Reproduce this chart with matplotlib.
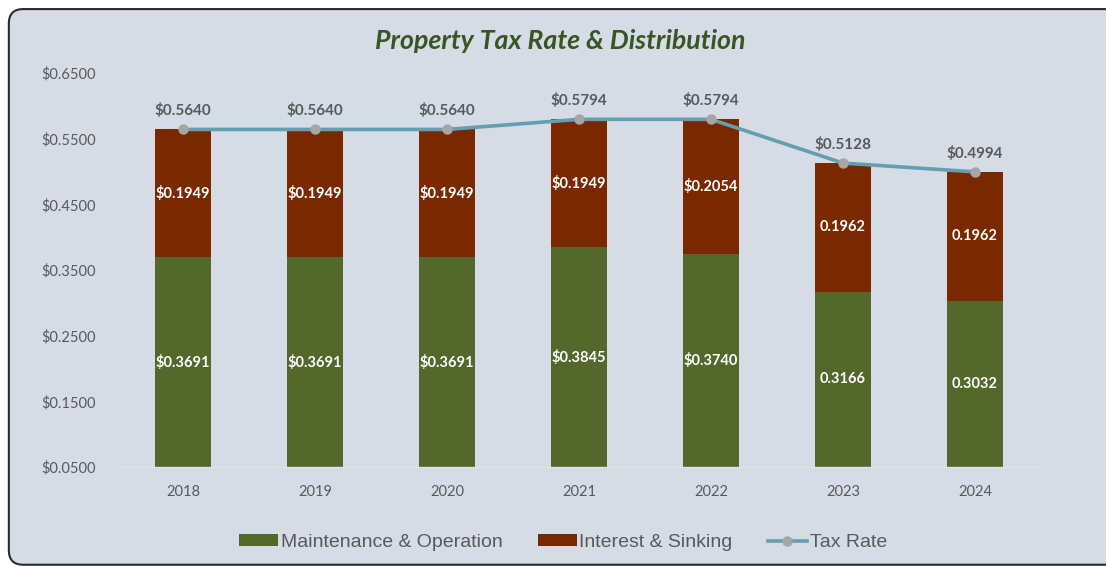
import numpy as np
import matplotlib
matplotlib.use('Agg')
import matplotlib.pyplot as plt
from matplotlib.patches import FancyBboxPatch
from matplotlib.lines import Line2D
from matplotlib.patches import Patch

# --- data ---
years = ['2018', '2019', '2020', '2021', '2022', '2023', '2024']
maint_op = [0.3691, 0.3691, 0.3691, 0.3845, 0.3740, 0.3166, 0.3032]
int_sink = [0.1949, 0.1949, 0.1949, 0.1949, 0.2054, 0.1962, 0.1962]
tax_rate = [0.5640, 0.5640, 0.5640, 0.5794, 0.5794, 0.5128, 0.4994]
dollar_labels = [True, True, True, True, True, False, False]  # last two printed without "$"
y_ticks = [0.05, 0.15, 0.25, 0.35, 0.45, 0.55, 0.65]

GREEN = '#53682a'
BROWN = '#7a2800'
LINE = '#639fb0'
MARKER = '#a6a6a6'
BG = '#d6dce5'
TXT = '#595959'

plt.rcParams['font.family'] = ['Lato', 'DejaVu Sans']

fig = plt.figure(figsize=(11.06, 5.67), dpi=100)
fig.patch.set_facecolor('white')

# rounded chart-area frame, kept behind the axes
frame = FancyBboxPatch((0.008, 0.004), 1.05, 0.98, boxstyle='round,pad=0,rounding_size=0.013',
                       transform=fig.transFigure, facecolor=BG, edgecolor='#2b2b2b',
                       linewidth=1.5, mutation_aspect=1106 / 567, zorder=-10)
fig.patches.append(frame)

ax = fig.add_axes([0.1058, 0.1764, 0.8354, 0.6949])
ax.set_facecolor('none')

x = np.arange(len(years))
mo = np.array(maint_op)
isk = np.array(int_sink)
w = 0.42

ax.bar(x, mo, width=w, color=GREEN, zorder=2)
ax.bar(x, isk, width=w, bottom=mo, color=BROWN, zorder=2)
ax.plot(x, tax_rate, color=LINE, linewidth=2.6, marker='o', markersize=6.5,
        markerfacecolor=MARKER, markeredgecolor=MARKER, zorder=3)

ymin, ymax = 0.05, 0.65
ax.set_ylim(ymin, ymax)
ax.set_xlim(-0.5, len(years) - 0.5)

def fmt(v, dollar):
    return f"${v:.4f}" if dollar else f"{v:.4f}"

for i in range(len(years)):
    ax.text(x[i], (ymin + mo[i]) / 2, fmt(mo[i], dollar_labels[i]), ha='center', va='center',
            color='white', fontsize=10.5, fontweight='bold', zorder=4)
    ax.text(x[i], mo[i] + isk[i] / 2, fmt(isk[i], dollar_labels[i]), ha='center', va='center',
            color='white', fontsize=10.5, fontweight='bold', zorder=4)
    ax.annotate(f"${tax_rate[i]:.4f}", (x[i], tax_rate[i]), xytext=(0, 8), textcoords='offset points',
                ha='center', va='bottom', color=TXT, fontsize=11, fontweight='bold', zorder=4)

ax.set_yticks(y_ticks)
ax.set_yticklabels([f"${v:.4f}" for v in y_ticks])
ax.set_xticks(x)
ax.set_xticklabels(years)
ax.tick_params(axis='both', length=0, colors=TXT, labelsize=10.5)
ax.tick_params(axis='y', pad=15)
ax.tick_params(axis='x', pad=13)
for s in ['top', 'right', 'left']:
    ax.spines[s].set_visible(False)
ax.spines['bottom'].set_color('#e3e3e3')
ax.spines['bottom'].set_linewidth(1)

fig.text(0.507, 0.927, 'Property Tax Rate & Distribution', ha='center', va='center',
         fontsize=19.3, fontweight='bold', fontstyle='italic', color='#375623')

handles = [Patch(facecolor=GREEN, label='Maintenance & Operation'),
           Patch(facecolor=BROWN, label='Interest & Sinking'),
           Line2D([0], [0], color=LINE, linewidth=2.6, marker='o', markersize=6.5,
                  markerfacecolor=MARKER, markeredgecolor=MARKER, label='Tax Rate')]
fig.legend(handles=handles, loc='center', bbox_to_anchor=(0.509, 0.043), ncol=3, frameon=False,
           prop={'family': 'Liberation Sans', 'size': 14}, labelcolor=TXT,
           handlelength=2.0, handleheight=0.6, handletextpad=0.15, columnspacing=1.8)

fig.savefig('out.png', dpi=100)
